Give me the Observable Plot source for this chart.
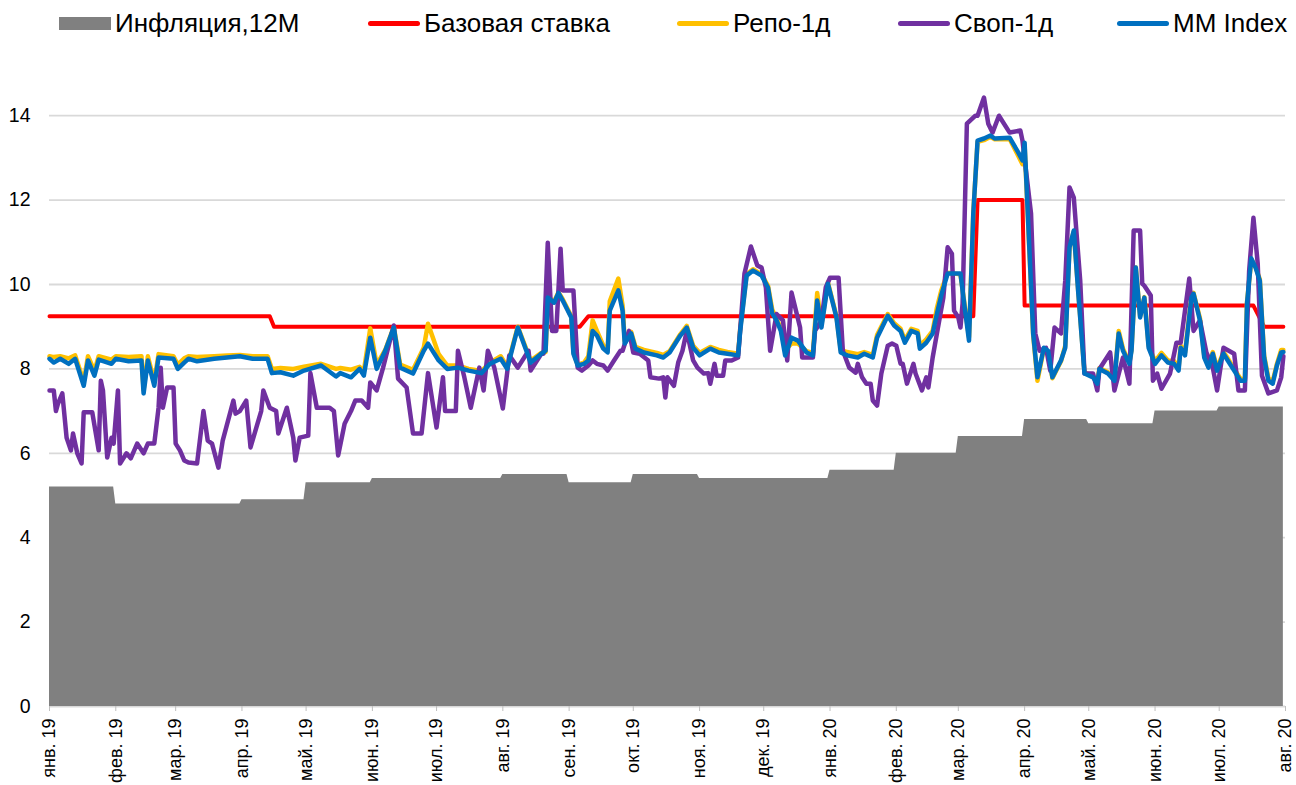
<!DOCTYPE html>
<html><head><meta charset="utf-8">
<script src="https://cdn.jsdelivr.net/npm/d3@7"></script>
<script src="https://cdn.jsdelivr.net/npm/@observablehq/plot@0.6"></script>
<style>
body{margin:0;background:#fff;font-family:"Liberation Sans",Arial,sans-serif;}
#legend{position:relative;height:45px;width:1296px;}
.li{position:absolute;top:2px;height:42px;display:flex;align-items:center;font-size:26px;color:#000;white-space:nowrap;}
.sw{display:inline-block;width:52px;margin-right:4px;}
</style></head><body>
<div id="legend"></div><div id="chart"></div>
<script>
// ---- data ----
const legendLabels = ["Инфляция,12M", "Базовая ставка", "Репо-1д", "Своп-1д", "MM Index"];
const monthAbbr = ["янв.", "фев.", "мар.", "апр.", "май.", "июн.", "июл.", "авг.", "сен.", "окт.", "ноя.", "дек."];
const yTicks = [0, 2, 4, 6, 8, 10, 12, 14];

const inflationMonths = ["2019-01","2019-02","2019-03","2019-04","2019-05","2019-06","2019-07","2019-08","2019-09","2019-10","2019-11","2019-12","2020-01","2020-02","2020-03","2020-04","2020-05","2020-06","2020-07"];
const inflationValues = [5.2,4.8,4.8,4.9,5.3,5.4,5.4,5.5,5.3,5.5,5.4,5.4,5.6,6.0,6.4,6.8,6.7,7.0,7.1];

const rateSeries = [["2019-01-01",9.25],["2019-04-14",9.25],["2019-04-16",9.0],["2019-09-06",9.0],["2019-09-10",9.25],["2020-03-08",9.25],["2020-03-10",12.0],["2020-03-31",12.0],["2020-04-01",9.5],["2020-07-17",9.5],["2020-07-22",9.0],["2020-07-31",9.0]];

const mmSeries = [
["2019-01-01",8.24],["2019-01-03",8.15],["2019-01-06",8.24],["2019-01-10",8.12],["2019-01-13",8.24],["2019-01-17",7.6],["2019-01-19",8.2],["2019-01-22",7.84],["2019-01-24",8.22],["2019-01-30",8.12],
["2019-02-01",8.24],["2019-02-07",8.18],["2019-02-13",8.2],["2019-02-14",7.42],["2019-02-16",8.2],["2019-02-19",7.6],["2019-02-21",8.27],["2019-02-28",8.24],
["2019-03-02",8.0],["2019-03-05",8.15],["2019-03-07",8.24],["2019-03-11",8.18],["2019-03-19",8.24],["2019-03-25",8.27],["2019-03-31",8.3],
["2019-04-06",8.24],["2019-04-13",8.24],["2019-04-15",7.9],["2019-04-19",7.92],["2019-04-25",7.84],["2019-04-30",7.96],
["2019-05-08",8.08],["2019-05-15",7.82],["2019-05-17",7.9],["2019-05-22",7.8],["2019-05-26",8.0],["2019-05-28",7.84],["2019-05-31",8.74],
["2019-06-03",8.0],["2019-06-07",8.43],["2019-06-11",8.98],["2019-06-14",8.03],["2019-06-20",7.89],["2019-06-25",8.43],["2019-06-27",8.6],
["2019-07-02",8.2],["2019-07-06",8.0],["2019-07-11",8.03],["2019-07-16",7.96],["2019-07-22",7.9],["2019-07-26",8.12],["2019-07-31",8.24],
["2019-08-03",8.0],["2019-08-08",8.98],["2019-08-14",8.15],["2019-08-19",8.36],["2019-08-21",8.43],["2019-08-22",9.69],["2019-08-25",9.57],["2019-08-27",9.8],["2019-08-29",9.62],
["2019-09-02",9.22],["2019-09-03",8.36],["2019-09-05",8.08],["2019-09-08",8.12],["2019-09-10",8.2],["2019-09-12",8.9],["2019-09-14",8.79],["2019-09-17",8.48],["2019-09-19",8.39],["2019-09-20",9.38],["2019-09-24",9.86],["2019-09-26",9.38],["2019-09-27",8.6],["2019-09-30",8.84],
["2019-10-02",8.48],["2019-10-06",8.39],["2019-10-12",8.32],["2019-10-15",8.27],["2019-10-18",8.39],["2019-10-23",8.79],["2019-10-26",8.98],["2019-10-29",8.5],
["2019-11-01",8.32],["2019-11-06",8.48],["2019-11-10",8.39],["2019-11-14",8.36],["2019-11-19",8.32],["2019-11-20",8.9],["2019-11-23",10.21],["2019-11-26",10.33],["2019-11-30",10.21],
["2019-12-03",9.93],["2019-12-05",9.31],["2019-12-07",9.15],["2019-12-09",8.9],["2019-12-11",8.32],["2019-12-14",8.74],["2019-12-17",8.67],["2019-12-21",8.39],["2019-12-24",8.32],["2019-12-26",9.62],["2019-12-28",8.98],["2019-12-31",10.02],
["2020-01-04",9.22],["2020-01-06",8.39],["2020-01-09",8.32],["2020-01-14",8.27],["2020-01-17",8.36],["2020-01-21",8.27],["2020-01-23",8.74],["2020-01-28",9.26],["2020-01-31",9.03],
["2020-02-03",8.9],["2020-02-05",8.62],["2020-02-08",8.9],["2020-02-11",8.84],["2020-02-12",8.48],["2020-02-15",8.62],["2020-02-18",8.84],["2020-02-20",9.31],["2020-02-22",9.74],["2020-02-25",10.26],
["2020-03-02",10.26],["2020-03-04",9.45],["2020-03-06",8.67],["2020-03-08",11.68],["2020-03-10",13.41],["2020-03-13",13.46],["2020-03-16",13.53],["2020-03-18",13.46],["2020-03-25",13.48],["2020-03-29",13.13],["2020-03-31",12.94],
["2020-04-01",13.36],["2020-04-05",8.84],["2020-04-07",7.8],["2020-04-10",8.5],["2020-04-12",8.43],["2020-04-14",7.8],["2020-04-18",8.2],["2020-04-20",8.5],["2020-04-22",10.88],["2020-04-24",11.28],["2020-04-26",9.86],["2020-04-29",7.89],
["2020-05-03",7.8],["2020-05-05",7.65],["2020-05-06",8.0],["2020-05-10",7.89],["2020-05-13",7.72],["2020-05-15",8.84],["2020-05-17",8.43],["2020-05-20",8.12],["2020-05-21",8.43],["2020-05-23",10.4],["2020-05-25",9.22],["2020-05-27",9.69],["2020-05-29",8.5],
["2020-06-01",8.12],["2020-06-04",8.32],["2020-06-07",8.15],["2020-06-10",8.12],["2020-06-12",7.96],["2020-06-13",8.5],["2020-06-15",8.32],["2020-06-18",9.69],["2020-06-19",9.78],["2020-06-22",9.15],["2020-06-24",8.27],["2020-06-26",8.03],["2020-06-28",8.36],["2020-06-30",7.96],
["2020-07-03",8.36],["2020-07-05",8.2],["2020-07-08",7.96],["2020-07-11",7.72],["2020-07-13",7.72],["2020-07-14",9.55],["2020-07-16",10.62],["2020-07-18",10.4],["2020-07-20",10.09],["2020-07-22",8.27],["2020-07-24",7.72],["2020-07-26",7.65],["2020-07-28",8.08],["2020-07-30",8.39],["2020-07-31",8.4]
];

const repoSeries = [
["2019-01-01",8.3],["2019-01-03",8.28],["2019-01-06",8.3],["2019-01-10",8.25],["2019-01-13",8.32],["2019-01-17",7.7],["2019-01-19",8.3],["2019-01-22",7.95],["2019-01-24",8.3],["2019-01-30",8.22],
["2019-02-01",8.3],["2019-02-07",8.28],["2019-02-13",8.3],["2019-02-14",7.5],["2019-02-16",8.3],["2019-02-19",7.7],["2019-02-21",8.35],["2019-02-28",8.3],
["2019-03-02",8.1],["2019-03-05",8.25],["2019-03-07",8.3],["2019-03-11",8.28],["2019-03-19",8.3],["2019-03-25",8.32],["2019-03-31",8.33],
["2019-04-06",8.3],["2019-04-13",8.3],["2019-04-15",8.0],["2019-04-19",8.02],["2019-04-25",8.0],["2019-04-30",8.05],
["2019-05-08",8.12],["2019-05-15",8.0],["2019-05-17",8.02],["2019-05-22",7.98],["2019-05-26",8.05],["2019-05-28",7.95],["2019-05-31",8.96],
["2019-06-03",8.1],["2019-06-07",8.45],["2019-06-11",9.0],["2019-06-14",8.1],["2019-06-20",7.98],["2019-06-25",8.5],["2019-06-27",9.07],
["2019-07-02",8.35],["2019-07-06",8.08],["2019-07-11",8.08],["2019-07-16",8.0],["2019-07-22",7.95],["2019-07-26",8.15],["2019-07-31",8.3],
["2019-08-03",8.05],["2019-08-08",9.0],["2019-08-14",8.2],["2019-08-19",8.38],["2019-08-21",8.4],["2019-08-22",9.7],["2019-08-25",9.6],["2019-08-27",9.82],["2019-08-29",9.65],
["2019-09-02",9.25],["2019-09-03",8.4],["2019-09-05",8.1],["2019-09-08",8.15],["2019-09-10",8.3],["2019-09-12",9.15],["2019-09-14",8.9],["2019-09-17",8.55],["2019-09-19",8.45],["2019-09-20",9.6],["2019-09-24",10.14],["2019-09-26",9.5],["2019-09-27",8.65],["2019-09-30",8.88],
["2019-10-02",8.52],["2019-10-06",8.45],["2019-10-12",8.38],["2019-10-15",8.33],["2019-10-18",8.42],["2019-10-23",8.82],["2019-10-26",9.02],["2019-10-29",8.55],
["2019-11-01",8.38],["2019-11-06",8.52],["2019-11-10",8.45],["2019-11-14",8.4],["2019-11-19",8.36],["2019-11-20",8.95],["2019-11-23",10.24],["2019-11-26",10.36],["2019-11-30",10.24],
["2019-12-03",9.97],["2019-12-05",9.4],["2019-12-07",9.2],["2019-12-09",8.95],["2019-12-11",8.45],["2019-12-14",8.6],["2019-12-17",8.6],["2019-12-21",8.42],["2019-12-24",8.38],["2019-12-26",9.8],["2019-12-28",9.05],["2019-12-31",10.05],
["2020-01-04",9.25],["2020-01-06",8.45],["2020-01-09",8.4],["2020-01-14",8.35],["2020-01-17",8.4],["2020-01-21",8.33],["2020-01-23",8.8],["2020-01-28",9.3],["2020-01-31",9.08],
["2020-02-03",8.95],["2020-02-05",8.68],["2020-02-08",8.95],["2020-02-11",8.9],["2020-02-12",8.55],["2020-02-15",8.7],["2020-02-18",8.9],["2020-02-20",9.45],["2020-02-22",9.85],["2020-02-25",10.28],
["2020-03-02",10.24],["2020-03-04",9.5],["2020-03-06",8.75],["2020-03-08",11.7],["2020-03-10",13.38],["2020-03-13",13.42],["2020-03-16",13.5],["2020-03-18",13.44],["2020-03-25",13.45],["2020-03-29",13.05],["2020-03-31",12.85],
["2020-04-01",13.3],["2020-04-05",8.8],["2020-04-07",7.72],["2020-04-10",8.48],["2020-04-12",8.4],["2020-04-14",7.78],["2020-04-18",8.18],["2020-04-20",8.55],["2020-04-22",10.9],["2020-04-24",11.25],["2020-04-26",9.9],["2020-04-29",7.92],
["2020-05-03",7.82],["2020-05-05",7.68],["2020-05-06",8.02],["2020-05-10",7.92],["2020-05-13",7.75],["2020-05-15",8.9],["2020-05-17",8.48],["2020-05-20",8.15],["2020-05-21",8.46],["2020-05-23",10.4],["2020-05-25",9.25],["2020-05-27",9.7],["2020-05-29",8.55],
["2020-06-01",8.18],["2020-06-04",8.38],["2020-06-07",8.2],["2020-06-10",8.18],["2020-06-12",8.02],["2020-06-13",8.55],["2020-06-15",8.38],["2020-06-18",9.72],["2020-06-19",9.8],["2020-06-22",9.2],["2020-06-24",8.32],["2020-06-26",8.08],["2020-06-28",8.4],["2020-06-30",8.02],
["2020-07-03",8.4],["2020-07-05",8.25],["2020-07-08",8.0],["2020-07-11",7.76],["2020-07-13",7.76],["2020-07-14",9.58],["2020-07-16",10.6],["2020-07-18",10.42],["2020-07-20",10.12],["2020-07-22",8.32],["2020-07-24",7.78],["2020-07-26",7.7],["2020-07-28",8.12],["2020-07-30",8.45],["2020-07-31",8.45]
];

const swapSeries = [
["2019-01-01",7.49],["2019-01-03",7.49],["2019-01-04",7.0],["2019-01-05",7.18],["2019-01-07",7.42],["2019-01-09",6.37],["2019-01-11",6.07],["2019-01-12",6.47],["2019-01-14",6.0],["2019-01-16",5.76],["2019-01-17",6.97],["2019-01-21",6.97],["2019-01-24",6.07],["2019-01-25",7.72],["2019-01-26",7.49],["2019-01-28",5.9],["2019-01-30",6.37],["2019-01-31",6.23],
["2019-02-02",7.49],["2019-02-03",5.76],["2019-02-06",6.0],["2019-02-08",5.88],["2019-02-11",6.23],["2019-02-14",6.0],["2019-02-16",6.23],["2019-02-19",6.23],["2019-02-21",7.08],["2019-02-22",8.03],["2019-02-23",7.08],["2019-02-25",7.56],["2019-02-28",7.56],
["2019-03-01",6.23],["2019-03-03",6.07],["2019-03-05",5.83],["2019-03-07",5.78],["2019-03-11",5.76],["2019-03-14",7.0],["2019-03-16",6.3],["2019-03-18",6.23],["2019-03-21",5.66],["2019-03-23",6.3],["2019-03-28",7.25],["2019-03-29",6.94],["2019-03-31",7.0],
["2019-04-03",7.25],["2019-04-05",6.14],["2019-04-10",7.0],["2019-04-11",7.49],["2019-04-14",7.08],["2019-04-17",7.0],["2019-04-18",6.47],["2019-04-22",7.08],["2019-04-25",6.37],["2019-04-26",5.83],["2019-04-28",6.37],
["2019-05-02",6.42],["2019-05-03",7.9],["2019-05-06",7.08],["2019-05-12",7.08],["2019-05-14",7.0],["2019-05-16",5.95],["2019-05-19",6.7],["2019-05-22",7.0],["2019-05-24",7.25],["2019-05-27",7.25],["2019-05-30",7.08],["2019-05-31",7.68],
["2019-06-03",7.49],["2019-06-06",8.03],["2019-06-11",9.03],["2019-06-13",7.77],["2019-06-17",7.56],["2019-06-20",6.47],["2019-06-24",6.47],["2019-06-27",7.9],
["2019-07-01",6.61],["2019-07-04",7.8],["2019-07-05",7.0],["2019-07-10",7.0],["2019-07-11",8.43],["2019-07-14",7.8],["2019-07-17",7.08],["2019-07-21",8.03],["2019-07-23",7.49],["2019-07-25",8.43],["2019-07-28",8.03],
["2019-08-01",7.06],["2019-08-04",8.32],["2019-08-08",8.03],["2019-08-13",8.43],["2019-08-14",7.96],["2019-08-19",8.36],["2019-08-20",8.36],["2019-08-22",10.99],["2019-08-24",8.9],["2019-08-26",8.9],["2019-08-28",10.85],["2019-08-29",9.86],
["2019-09-03",9.86],["2019-09-05",8.03],["2019-09-07",7.96],["2019-09-10",8.08],["2019-09-12",8.2],["2019-09-14",8.12],["2019-09-17",8.08],["2019-09-19",7.96],["2019-09-22",8.2],["2019-09-25",8.43],["2019-09-26",8.43],["2019-09-29",8.9],
["2019-10-01",8.39],["2019-10-04",8.36],["2019-10-08",8.2],["2019-10-09",7.8],["2019-10-13",7.77],["2019-10-15",7.8],["2019-10-16",7.32],["2019-10-17",7.8],["2019-10-20",7.6],["2019-10-22",8.15],["2019-10-24",8.43],["2019-10-26",8.9],["2019-10-29",8.2],["2019-10-31",8.03],
["2019-11-03",7.89],["2019-11-05",7.9],["2019-11-06",7.65],["2019-11-08",8.12],["2019-11-09",7.84],["2019-11-12",7.84],["2019-11-13",8.2],["2019-11-16",8.2],["2019-11-19",8.27],["2019-11-22",10.26],["2019-11-25",10.9],["2019-11-28",10.45],["2019-11-30",10.4],
["2019-12-02",9.93],["2019-12-04",8.43],["2019-12-07",9.3],["2019-12-10",9.15],["2019-12-12",8.2],["2019-12-14",9.81],["2019-12-18",8.98],["2019-12-19",8.27],["2019-12-24",8.27],["2019-12-25",8.9],["2019-12-28",9.15],["2019-12-30",9.93],
["2020-01-01",10.16],["2020-01-05",10.16],["2020-01-07",8.43],["2020-01-10",8.03],["2020-01-13",7.91],["2020-01-14",8.12],["2020-01-16",7.8],["2020-01-18",7.65],["2020-01-20",7.65],["2020-01-21",7.25],["2020-01-23",7.13],["2020-01-25",7.89],["2020-01-28",8.55],["2020-01-30",8.6],
["2020-02-01",8.55],["2020-02-03",8.12],["2020-02-04",8.12],["2020-02-06",7.65],["2020-02-09",8.12],["2020-02-10",7.89],["2020-02-13",7.49],["2020-02-15",7.8],["2020-02-16",7.56],["2020-02-18",8.27],["2020-02-20",8.84],["2020-02-23",9.69],["2020-02-25",10.88],["2020-02-27",10.73],["2020-02-28",9.38],
["2020-03-01",9.22],["2020-03-02",8.98],["2020-03-03",9.55],["2020-03-05",13.81],["2020-03-09",14.0],["2020-03-10",14.0],["2020-03-13",14.43],["2020-03-15",13.81],["2020-03-17",13.6],["2020-03-20",14.0],["2020-03-25",13.6],["2020-03-30",13.65],["2020-03-31",13.41],
["2020-04-04",11.68],["2020-04-06",8.84],["2020-04-08",8.43],["2020-04-11",8.5],["2020-04-13",7.96],["2020-04-15",8.98],["2020-04-18",8.84],["2020-04-20",10.09],["2020-04-22",12.3],["2020-04-24",12.06],["2020-04-27",10.09],["2020-04-29",7.89],
["2020-05-03",7.89],["2020-05-05",7.49],["2020-05-06",8.0],["2020-05-11",8.39],["2020-05-13",7.49],["2020-05-17",8.27],["2020-05-20",7.65],["2020-05-22",11.28],["2020-05-25",11.28],["2020-05-26",10.02],["2020-05-27",9.97],["2020-05-30",9.74],["2020-05-31",7.72],
["2020-06-02",7.89],["2020-06-04",7.53],["2020-06-08",7.89],["2020-06-11",8.62],["2020-06-13",8.62],["2020-06-17",10.14],["2020-06-19",8.9],["2020-06-22",9.15],["2020-06-25",8.39],["2020-06-28",8.03],["2020-06-30",7.49],
["2020-07-03",8.5],["2020-07-08",8.36],["2020-07-10",7.49],["2020-07-13",7.49],["2020-07-15",10.33],["2020-07-17",11.58],["2020-07-19",10.5],["2020-07-21",7.84],["2020-07-24",7.42],["2020-07-28",7.49],["2020-07-30",7.8],["2020-07-31",8.3]
];

// ---- build ----
const parse = d3.utcParse("%Y-%m-%d");
const toRows = s => s.map(([d, v]) => ({date: parse(d), value: v}));
const rate = toRows(rateSeries), mm = toRows(mmSeries), repo = toRows(repoSeries), swap = toRows(swapSeries);
const infl = [];
inflationMonths.forEach((m, i) => {
  const s = parse(m + "-01");
  const e = d3.utcDay.offset(d3.utcMonth.offset(s, 1), -1);
  infl.push({date: s, value: inflationValues[i]}, {date: e, value: inflationValues[i]});
});

const colors = ["#808080", "#ff0000", "#ffc000", "#7030a0", "#0070c0"];
const legendLeft = [59, 368, 677, 898, 1117];
const legend = document.getElementById("legend");
legendLabels.forEach((lab, i) => {
  const item = document.createElement("div"); item.className = "li";
  item.style.left = legendLeft[i] + "px";
  const sw = document.createElement("span"); sw.className = "sw";
  sw.style.background = colors[i];
  sw.style.height = i === 0 ? "13px" : "5px";
  if (i > 0) sw.style.borderRadius = "3px";
  item.appendChild(sw);
  item.appendChild(document.createTextNode(lab));
  legend.appendChild(item);
});

const xStart = parse("2019-01-01"), xEnd = parse("2020-08-01");
const monthTicks = d3.utcMonth.range(xStart, d3.utcDay.offset(xEnd, 1));

const chart = Plot.plot({
  width: 1296, height: 740,
  marginLeft: 49, marginRight: 11, marginTop: 28, marginBottom: 79,
  x: {type: "utc", domain: [xStart, xEnd]},
  y: {domain: [0, 15]},
  style: {fontFamily: "'Liberation Sans', Arial, sans-serif", background: "#fff", color: "#000"},
  marks: [
    Plot.gridY(yTicks, {stroke: "#d9d9d9", strokeOpacity: 1, strokeWidth: 1.8}),
    Plot.areaY(infl, {x: "date", y: "value", fill: "#808080"}),
    Plot.line(rate, {x: "date", y: "value", stroke: colors[1], strokeWidth: 4}),
    Plot.line(repo, {x: "date", y: "value", stroke: colors[2], strokeWidth: 4.5, strokeLinejoin: "round"}),
    Plot.line(swap, {x: "date", y: "value", stroke: colors[3], strokeWidth: 4.5, strokeLinejoin: "round"}),
    Plot.line(mm, {x: "date", y: "value", stroke: colors[4], strokeWidth: 4.5, strokeLinejoin: "round"}),
    Plot.axisY(yTicks, {tickSize: 0, tickPadding: 19, fontSize: 19.5, label: null}),
    Plot.axisX(monthTicks, {tickSize: 5, tickPadding: 7, tickRotate: -90, fontSize: 18, label: null, stroke: "#bfbfbf",
      tickFormat: d => monthAbbr[d.getUTCMonth()] + " " + String(d.getUTCFullYear()).slice(2)})
  ]
});
document.getElementById("chart").appendChild(chart);
</script></body></html>
